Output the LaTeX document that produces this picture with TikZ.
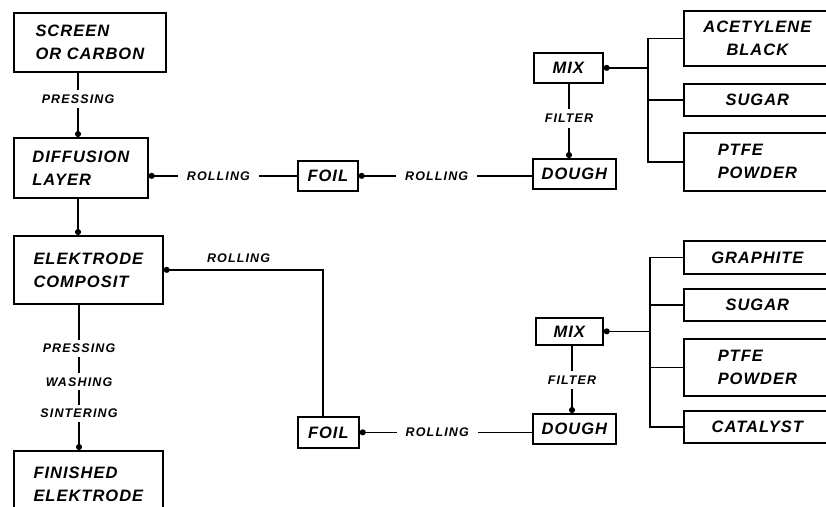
\documentclass[tikz,border=0pt]{standalone}
\usepackage{fontspec}
\setmainfont{Liberation Sans}
\newfontfamily\boxfont{Liberation Sans}[LetterSpace=6]
\newfontfamily\lblfont{Liberation Sans}[LetterSpace=9]
\usetikzlibrary{arrows.meta}
\begin{document}
\begin{tikzpicture}[x=1pt,y=-1pt,line width=1.7pt,
  box/.style={draw,rectangle,inner sep=0pt,align=left,anchor=north west,
    font=\boxfont\fontsize{16.5}{23}\selectfont\bfseries\itshape},
  cbox/.style={box,align=center},
  lbl/.style={fill=white,inner xsep=9pt,inner ysep=5pt,
    font=\lblfont\fontsize{12.5}{14}\selectfont\bfseries\itshape},
  tlbl/.style={inner sep=0pt,font=\lblfont\fontsize{12.5}{14}\selectfont\bfseries\itshape},
  tip/.style={-{Circle[length=6pt]}}]
\useasboundingbox (0,0) rectangle (826,506);
\clip (0,0) rectangle (826,506);
% column coordinates
\coordinate (c1) at (78,0);
\coordinate (c2) at (79,0);
\coordinate (f1) at (569,0);
\coordinate (f2) at (572,0);
\coordinate (b1) at (648,0);
\coordinate (b2) at (650,0);
\coordinate (v2) at (323,0);
% left column
\node[box,minimum width=152pt,minimum height=59pt] (screen) at (13,12) {SCREEN\\OR CARBON};
\node[box,minimum width=134pt,minimum height=60pt] (diff) at (13,137) {DIFFUSION\\LAYER};
\node[box,minimum width=149pt,minimum height=68pt] (elek) at (13,235) {ELEKTRODE\\COMPOSIT};
\node[box,minimum width=149pt,minimum height=70pt,text depth=4pt] (fin) at (13,450) {FINISHED\\ELEKTRODE};
% upper chain
\node[box,minimum width=60pt,minimum height=30pt,align=center] (foil1) at (297,160) {FOIL};
\node[box,minimum width=83pt,minimum height=30pt,align=center] (dough1) at (532,158) {DOUGH};
\node[box,minimum width=69pt,minimum height=30pt,align=center] (mix1) at (533,52) {MIX};
\node[cbox,minimum width=147pt,minimum height=55pt] (acet) at (683,10) {ACETYLENE\\BLACK};
\node[cbox,minimum width=147pt,minimum height=32pt] (sugar1) at (683,83) {SUGAR};
\node[box,minimum width=147pt,minimum height=58pt] (ptfe1) at (683,132) {PTFE\\POWDER};
% lower chain
\node[box,minimum width=61pt,minimum height=31pt,align=center] (foil2) at (297,416) {FOIL};
\node[box,minimum width=83pt,minimum height=30pt,align=center] (dough2) at (532,413) {DOUGH};
\node[box,minimum width=67pt,minimum height=27pt,align=center] (mix2) at (535,317) {MIX};
\node[cbox,minimum width=147pt,minimum height=33pt] (graph) at (683,240) {GRAPHITE};
\node[cbox,minimum width=147pt,minimum height=32pt] (sugar2) at (683,288) {SUGAR};
\node[box,minimum width=147pt,minimum height=57pt] (ptfe2) at (683,338) {PTFE\\POWDER};
\node[cbox,minimum width=147pt,minimum height=32pt] (cat) at (683,410) {CATALYST};
% left column connectors
\draw[tip] (screen.south -| c1) -- node[lbl,pos=0.41] (lp1) {PRESSING} (diff.north -| c1);
\draw[tip] (diff.south -| c1) -- (elek.north -| c1);
\draw[tip] (elek.south -| c2) --
  node[lbl,pos=0.30,inner ysep=4pt] (lp2) {PRESSING}
  node[lbl,pos=0.53,inner ysep=4pt] (lw) {WASHING}
  node[lbl,pos=0.75,inner ysep=4pt] (ls) {SINTERING} (fin.north -| c2);
% upper horizontal chain
\draw[tip] (foil1.west) -- node[lbl,pos=0.53] (lr1) {ROLLING} (foil1.west -| diff.east);
\draw[tip] (dough1.west |- foil1.east) -- node[lbl,pos=0.55] (lr2) {ROLLING} (foil1.east);
\draw[tip] (mix1.south -| f1) -- node[lbl,pos=0.47,inner xsep=2pt] (lf1) {FILTER} (dough1.north -| f1);
\draw (acet.west) -- (acet.west -| b1) -- (ptfe1.west -| b1) -- (ptfe1.west);
\draw (sugar1.west -| b1) -- (sugar1.west);
\draw[tip] (mix1.east -| b1) -- (mix1.east);
% lower chain connectors
\draw[tip] (foil2.north -| v2) -- (elek.east -| v2) -- node[tlbl,above=6pt,pos=0.53] (lr3) {ROLLING} (elek.east);
\draw[tip] (dough2.west |- foil2.east) -- node[lbl,pos=0.55] (lr4) {ROLLING} (foil2.east);
\draw[tip] (mix2.south -| f2) -- node[lbl,pos=0.51,inner xsep=2pt] (lf2) {FILTER} (dough2.north -| f2);
\draw (graph.west) -- (graph.west -| b2) -- (cat.west -| b2) -- (cat.west);
\draw (sugar2.west -| b2) -- (sugar2.west);
\draw (ptfe2.west -| b2) -- (ptfe2.west);
\draw[tip] (mix2.east -| b2) -- (mix2.east);
\end{tikzpicture}
\end{document}
